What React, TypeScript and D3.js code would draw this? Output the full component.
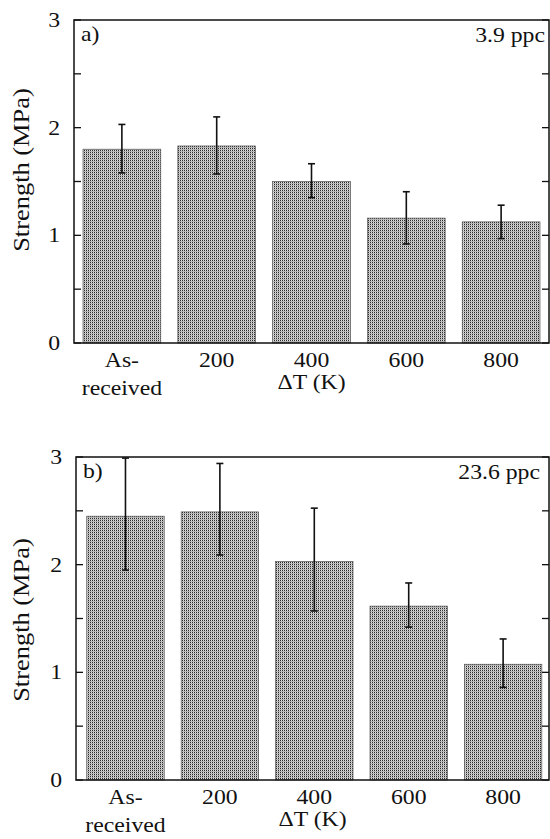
import React from "react";
import * as d3 from "d3";

const categories = ["As-received", "200", "400", "600", "800"];
const strengthA = [1.8, 1.83, 1.5, 1.16, 1.125];
const errLowA = [1.58, 1.57, 1.35, 0.92, 0.97];
const errHighA = [2.03, 2.1, 1.665, 1.405, 1.28];
const strengthB = [2.45, 2.49, 2.03, 1.615, 1.075];
const errLowB = [1.95, 2.09, 1.57, 1.42, 0.86];
const errHighB = [2.99, 2.94, 2.525, 1.83, 1.31];
const majorTicks = [0, 1, 2, 3];
const minorTicks = [0.5, 1.5, 2.5];
const panelLabels = ["a)", "b)"];
const concLabels = ["3.9 ppc", "23.6 ppc"];
const xTitle = "ΔT (K)";
const yTitle = "Strength (MPa)";

const FONT = "'Liberation Serif', 'Times New Roman', serif";
const SX = 1.13;

type PanelProps = {
  left: number; right: number; top: number; bottom: number;
  values: number[]; lo: number[]; hi: number[];
  label: string; conc: string; concRight: number; align: number; yLabelY: number;
};

function Panel(p: PanelProps) {
  const x = d3.scaleBand<string>().domain(categories).range([p.left, p.right])
    .paddingInner(0.18).paddingOuter(0.095).align(p.align);
  const y = d3.scaleLinear().domain([0, 3]).range([p.bottom, p.top]);
  const tl = 7;
  const txt = (tx: number, ty: number, s: string, anchor: string, size = 21) => (
    <text transform={`translate(${tx},${ty}) scale(${SX},1)`} textAnchor={anchor}
      fontFamily={FONT} fontSize={size} fill="#111">{s}</text>
  );
  return (
    <g>
      {categories.map((c, i) => (
        <rect key={c} x={x(c)} y={y(p.values[i])} width={x.bandwidth()}
          height={y(0) - y(p.values[i])} fill="url(#stipple)" stroke="#555" strokeWidth={0.7} />
      ))}
      {categories.map((c, i) => {
        const cx = (x(c) as number) + x.bandwidth() / 2;
        return (
          <g key={"e" + c} stroke="#111" strokeWidth={1.6}>
            <line x1={cx} x2={cx} y1={y(p.lo[i])} y2={y(p.hi[i])} />
            <line x1={cx - 3.5} x2={cx + 3.5} y1={y(p.lo[i])} y2={y(p.lo[i])} />
            <line x1={cx - 3.5} x2={cx + 3.5} y1={y(p.hi[i])} y2={y(p.hi[i])} />
          </g>
        );
      })}
      <rect x={p.left} y={p.top} width={p.right - p.left} height={p.bottom - p.top}
        fill="none" stroke="#111" strokeWidth={1.5} />
      {[...majorTicks, ...minorTicks].map((t) => (
        <g key={"t" + t} stroke="#111" strokeWidth={1.3}>
          <line x1={p.left} x2={p.left + tl} y1={y(t)} y2={y(t)} />
          <line x1={p.right - tl} x2={p.right} y1={y(t)} y2={y(t)} />
        </g>
      ))}
      {majorTicks.map((t) => (
        <g key={"l" + t}>{txt(p.left - 14, y(t) + 7, String(t), "end")}</g>
      ))}
      {categories.map((c) => {
        const cx = (x(c) as number) + x.bandwidth() / 2;
        if (c === "As-received") {
          return (
            <g key={"x" + c}>
              {txt(cx, p.bottom + 24, "As-", "middle")}
              {txt(cx, p.bottom + 52, "received", "middle")}
            </g>
          );
        }
        return <g key={"x" + c}>{txt(cx, p.bottom + 24, c, "middle")}</g>;
      })}
      {txt((p.left + p.right) / 2, p.bottom + 46, xTitle, "middle")}
      {txt(p.left + 7, p.top + 21, p.label, "start")}
      {txt(p.concRight, p.top + 22, p.conc, "end")}
      <text transform={`translate(29,${p.yLabelY}) rotate(-90) scale(1.15,1)`} textAnchor="middle"
        fontFamily={FONT} fontSize={23} fill="#111">{yTitle}</text>
    </g>
  );
}

export default function App() {
  return (
    <svg width={550} height={839} style={{ position: "absolute", left: 0, top: 0, background: "#fff" }}>
      <defs>
        <pattern id="stipple" patternUnits="userSpaceOnUse" width={2} height={2}>
          <rect x={0} y={0} width={2} height={2} fill="#b4b4b4" />
          <rect x={0} y={0} width={1} height={1} fill="#2a2a2a" />
          <rect x={1} y={0} width={1} height={1} fill="#e0e0e0" />
        </pattern>
      </defs>
      <Panel left={74} right={549} top={20} bottom={343} values={strengthA} lo={errLowA} hi={errHighA}
        label={panelLabels[0]} conc={concLabels[0]} concRight={545} align={0.5} yLabelY={170} />
      <Panel left={76} right={549} top={457} bottom={780} values={strengthB} lo={errLowB} hi={errHighB}
        label={panelLabels[1]} conc={concLabels[1]} concRight={540} align={0.6} yLabelY={620} />
    </svg>
  );
}
